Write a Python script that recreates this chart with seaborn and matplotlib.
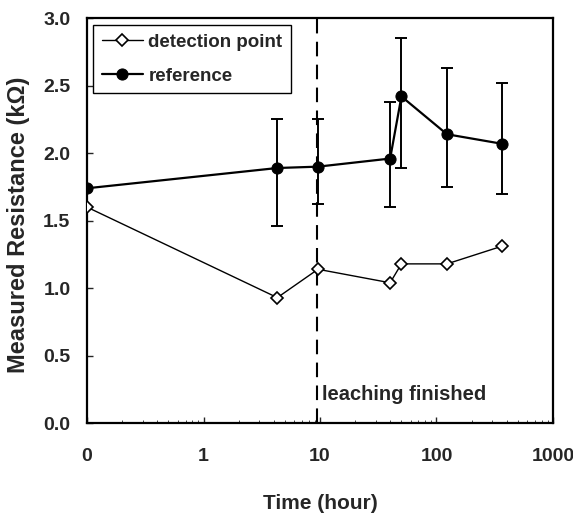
import matplotlib
matplotlib.use("Agg")
import matplotlib.pyplot as plt
import matplotlib.ticker as mticker
import seaborn as sns
import numpy as np
import pandas as pd

# x position of "0" is drawn at 0.1 on the log axis
time_h = [0.1, 4.3, 9.6, 40, 50, 123, 362]
detection = [1.60, 0.93, 1.14, 1.04, 1.18, 1.18, 1.31]
reference = [1.74, 1.89, 1.90, 1.96, 2.42, 2.14, 2.07]
ref_low = [1.74, 1.46, 1.62, 1.60, 1.89, 1.75, 1.70]
ref_high = [1.74, 2.25, 2.25, 2.38, 2.85, 2.63, 2.52]
xticks = [0.1, 1, 10, 100, 1000]
xtick_labels = ["0", "1", "10", "100", "1000"]
yticks = [0.0, 0.5, 1.0, 1.5, 2.0, 2.5, 3.0]
leach_time = 9.4

sns.set_style("ticks")
plt.rcParams["font.family"] = ["Liberation Sans", "DejaVu Sans"]
plt.rcParams["font.weight"] = "bold"

fig = plt.figure(figsize=(5.73, 5.18), dpi=100)
ax = fig.add_axes([0.152, 0.183, 0.813, 0.782])

df = pd.DataFrame({"t": time_h, "det": detection, "ref": reference})

ref = np.array(reference)
yerr = [ref - np.array(ref_low), np.array(ref_high) - ref]
ax.errorbar(time_h, reference, yerr=yerr, fmt="none", ecolor="black",
            elinewidth=1.4, capsize=4, capthick=1.4, zorder=2)

sns.lineplot(data=df, x="t", y="det", ax=ax, color="black", lw=1.0,
             marker="D", markersize=6, markerfacecolor="white",
             markeredgecolor="black", markeredgewidth=1.2,
             label="detection point", zorder=3)
sns.lineplot(data=df, x="t", y="ref", ax=ax, color="black", lw=1.6,
             marker="o", markersize=8, markerfacecolor="black",
             markeredgecolor="black", label="reference", zorder=3)

ax.axvline(leach_time, color="black", lw=1.5, ls=(0, (7, 4)), zorder=1)
ax.text(10.3, 0.21, "leaching finished", fontsize=14.5, fontweight="bold",
        ha="left", va="center")

ax.set_xscale("log")
ax.set_xlim(0.1, 1000)
ax.set_ylim(0, 3.0)
ax.set_xticks(xticks)
ax.set_xticklabels(xtick_labels)
ax.xaxis.set_minor_locator(mticker.LogLocator(base=10, subs=np.arange(2, 10)))
ax.xaxis.set_minor_formatter(mticker.NullFormatter())
ax.set_yticks(yticks)
ax.set_yticklabels([f"{v:.1f}" for v in yticks])
ax.tick_params(axis="both", which="major", direction="in", length=4,
               labelsize=14, width=1)
ax.tick_params(axis="x", which="major", pad=18)
ax.tick_params(axis="y", which="major", pad=12)
ax.tick_params(axis="x", which="minor", direction="in", length=2, width=0.6)
for lab in ax.get_xticklabels() + ax.get_yticklabels():
    lab.set_fontweight("bold")
for s in ax.spines.values():
    s.set_linewidth(1.6)
    s.set_color("black")

ax.set_xlabel("Time (hour)", fontsize=15, fontweight="bold")
ax.xaxis.set_label_coords(0.5, -0.176)
ax.xaxis.label.set_verticalalignment("top")
ax.set_ylabel("Measured Resistance (k\u03a9)", fontsize=17, fontweight="bold")
ax.yaxis.set_label_coords(-0.122, 0.49)

leg = ax.legend(loc="upper left", fontsize=13.5, frameon=True, fancybox=False,
                edgecolor="black", framealpha=1, borderpad=0.45,
                labelspacing=0.9, handlelength=2.2, handletextpad=0.3,
                borderaxespad=0.0, bbox_to_anchor=(0.013, 0.983))
leg.get_frame().set_linewidth(1.0)
for t in leg.get_texts():
    t.set_fontweight("bold")

fig.savefig("out.png", dpi=100)
